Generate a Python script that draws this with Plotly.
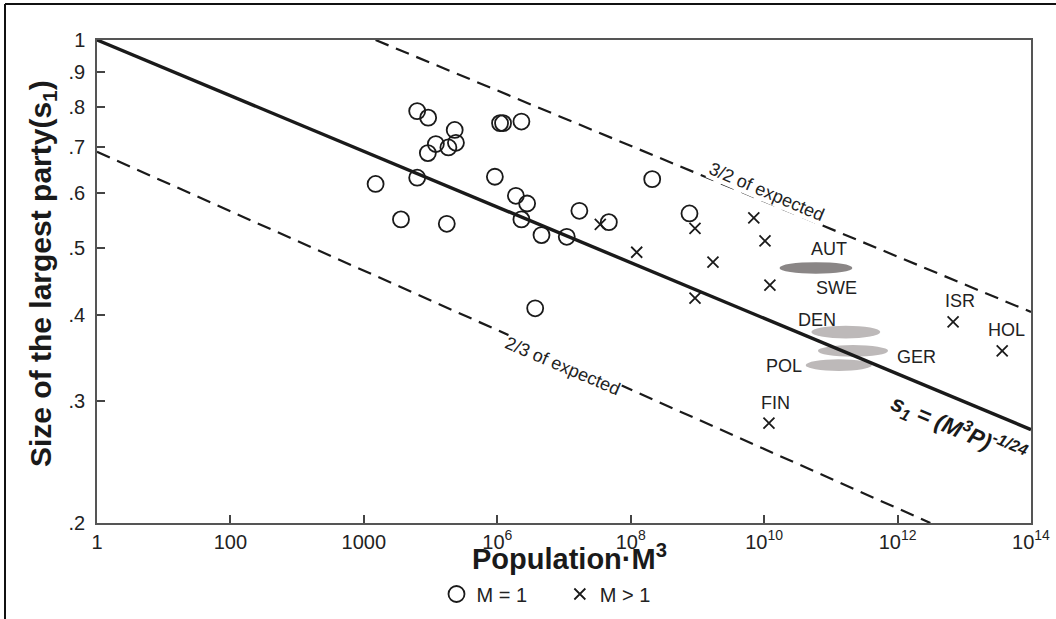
import numpy as np
import plotly.graph_objects as go

# ---------------- data ----------------
# M = 1 (open circles)
m1_x = [6.3e4, 9.2e4, 2.3e5, 1.2e5, 9.1e4, 1.85e5, 2.4e5, 1.1e6, 1.22e6, 2.3e6,
        1.5e4, 6.3e4, 9.2e5, 1.9e6, 2.8e6, 2.3e6, 4.6e6, 3.6e4, 1.75e5,
        1.1e7, 1.7e7, 4.7e7, 2.1e8, 7.6e8, 3.7e6]
m1_y = [0.789, 0.772, 0.741, 0.707, 0.686, 0.699, 0.710, 0.758, 0.758, 0.762,
        0.619, 0.632, 0.634, 0.595, 0.580, 0.550, 0.522, 0.550, 0.542,
        0.519, 0.566, 0.545, 0.629, 0.561, 0.409]

# M > 1 (crosses)
mg_x = [3.5e7, 1.23e8, 9.2e8, 9.2e8, 1.71e9, 7.0e9, 1.03e10, 1.22e10, 1.18e10, 6.8e12, 3.7e13]
mg_y = [0.541, 0.493, 0.534, 0.423, 0.477, 0.553, 0.512, 0.442, 0.279, 0.391, 0.355]

# expected line and the 3/2, 2/3 bands (end points)
exp_x = [1, 1e14]
exp_y = [1.0, 0.273]
upper_x = [1.5e4, 1e14]
upper_y = [1.0, 0.404]
lower_x = [1, 3.1e12]
lower_y = [0.689, 0.2]

# country ranges (grey ellipses)
ell_names = ["AUT", "DEN", "GER", "POL"]
ell_x0 = [1.7e10, 5.1e10, 6.4e10, 4.2e10]
ell_x1 = [2.1e11, 5.5e11, 7.2e11, 4.1e11]
ell_y0 = [0.459, 0.370, 0.348, 0.332]
ell_y1 = [0.477, 0.386, 0.362, 0.345]
ell_colors = ["#8a8686", "#bdb9b9", "#bdb9b9", "#bdb9b9"]

# country labels
lab_text = ["AUT", "SWE", "DEN", "GER", "POL", "FIN", "ISR", "HOL"]
lab_x = [9.3e10, 1.2e11, 6.3e10, 1.9e12, 2.0e10, 1.5e10, 8.5e12, 4.3e13]
lab_y = [0.498, 0.437, 0.394, 0.348, 0.337, 0.298, 0.419, 0.380]

# axis ticks
x_tickvals = [1, 1e2, 1e4, 1e6, 1e8, 1e10, 1e12, 1e14]
x_ticktext = ["1", "100", "1000", "10<sup>6</sup>", "10<sup>8</sup>",
              "10<sup>10</sup>", "10<sup>12</sup>", "10<sup>14</sup>"]
y_tickvals = [0.2, 0.3, 0.4, 0.5, 0.6, 0.7, 0.8, 0.9, 1.0]
y_ticktext = [".2", ".3", ".4", ".5", ".6", ".7", ".8", ".9", "1"]

FONT = "Liberation Sans, Arial, sans-serif"
INK = "#1a1a1a"

W, H = 1056, 619
ML, MR, MT, MB = 97, 25, 40, 96
pw, ph = W - ML - MR, H - MT - MB


def px_x(p):
    return (p - ML) / pw


def px_y(p):
    return (H - MB - p) / ph


fig = go.Figure()

fig.add_trace(go.Scatter(x=exp_x, y=exp_y, mode="lines",
                         line=dict(color=INK, width=3.4), showlegend=False, hoverinfo="skip"))
fig.add_trace(go.Scatter(x=upper_x, y=upper_y, mode="lines",
                         line=dict(color=INK, width=2.2, dash="14px,8px"), showlegend=False, hoverinfo="skip"))
fig.add_trace(go.Scatter(x=lower_x, y=lower_y, mode="lines",
                         line=dict(color=INK, width=2.2, dash="14px,8px"), showlegend=False, hoverinfo="skip"))

fig.add_trace(go.Scatter(x=m1_x, y=m1_y, mode="markers", name="M = 1     ",
                         marker=dict(symbol="circle-open", size=16, color=INK,
                                     line=dict(width=1.8, color=INK))))
fig.add_trace(go.Scatter(x=mg_x, y=mg_y, mode="markers", name="M > 1",
                         marker=dict(symbol="x-thin-open", size=11, color=INK,
                                     line=dict(width=1.8, color=INK))))

shapes = []
for x0, x1, y0, y1, c in zip(ell_x0, ell_x1, ell_y0, ell_y1, ell_colors):
    shapes.append(dict(type="circle", xref="x", yref="y", x0=x0, x1=x1, y0=y0, y1=y1,
                       fillcolor=c, line=dict(width=0), layer="below"))

# outer figure frame (top and left edges only)
shapes.append(dict(type="line", xref="paper", yref="paper", x0=px_x(5), x1=px_x(W + 5),
                   y0=px_y(4), y1=px_y(4), line=dict(color="#111", width=2)))
shapes.append(dict(type="line", xref="paper", yref="paper", x0=px_x(5), x1=px_x(5),
                   y0=px_y(4), y1=px_y(H + 5), line=dict(color="#111", width=2)))

annotations = []
for t, x, y in zip(lab_text, lab_x, lab_y):
    annotations.append(dict(x=np.log10(x), y=np.log10(y), xref="x", yref="y", text=t,
                            showarrow=False, font=dict(family=FONT, size=18, color="#222")))

annotations.append(dict(x=np.log10(8.3e12), y=np.log10(0.274), xref="x", yref="y",
                        text="<b><i>s<sub>1</sub> = (M<sup>3</sup>P)<sup>-1/24</sup></i></b>",
                        showarrow=False, textangle=23,
                        font=dict(family=FONT, size=23, color=INK)))
annotations.append(dict(x=np.log10(1.1e10), y=np.log10(0.602), xref="x", yref="y",
                        text="3/2 of expected", showarrow=False, textangle=23,
                        bgcolor="white", borderpad=0,
                        font=dict(family=FONT, size=18, color="#222")))
annotations.append(dict(x=np.log10(9.5e6), y=np.log10(0.337), xref="x", yref="y",
                        text="2/3 of expected", showarrow=False, textangle=23,
                        bgcolor="white", borderpad=0,
                        font=dict(family=FONT, size=18, color="#222")))

# axis titles
annotations.append(dict(x=px_x(569), y=px_y(557), xref="paper", yref="paper",
                        xanchor="center", yanchor="middle", showarrow=False,
                        text="<b>Population·M<sup>3</sup></b>",
                        font=dict(family=FONT, size=29, color=INK)))
annotations.append(dict(x=px_x(42), y=px_y(274), xref="paper", yref="paper",
                        xanchor="center", yanchor="middle", showarrow=False, textangle=-90,
                        text="<b>Size of the largest party(s<sub>1</sub>)</b>",
                        font=dict(family=FONT, size=30, color=INK)))

axis_common = dict(showgrid=False, zeroline=False, showline=True, linecolor="#555",
                   linewidth=1.5, mirror=True, ticks="inside", ticklen=8, tickwidth=1.5,
                   tickcolor="#444", automargin=False,
                   tickfont=dict(family=FONT, size=20, color="#222"))

fig.update_layout(
    width=W, height=H,
    margin=dict(l=ML, r=MR, t=MT, b=MB, autoexpand=False),
    paper_bgcolor="white", plot_bgcolor="white",
    xaxis=dict(type="log", range=[0, 14], tickvals=x_tickvals, ticktext=x_ticktext,
               ticklabelstandoff=0, **axis_common),
    yaxis=dict(type="log", range=[np.log10(0.2), 0], tickvals=y_tickvals, ticktext=y_ticktext,
               ticklabelstandoff=6, **axis_common),
    legend=dict(orientation="h", x=px_x(546), xanchor="center", y=px_y(594), yanchor="middle",
                font=dict(family=FONT, size=20, color="#222"), itemwidth=30,
                bgcolor="rgba(0,0,0,0)"),
    shapes=shapes,
    annotations=annotations,
)

fig.write_html("out.html", include_plotlyjs=True, full_html=True,
               config={"displayModeBar": False},
               post_script="document.body.style.margin='0';document.body.style.overflow='hidden';")
